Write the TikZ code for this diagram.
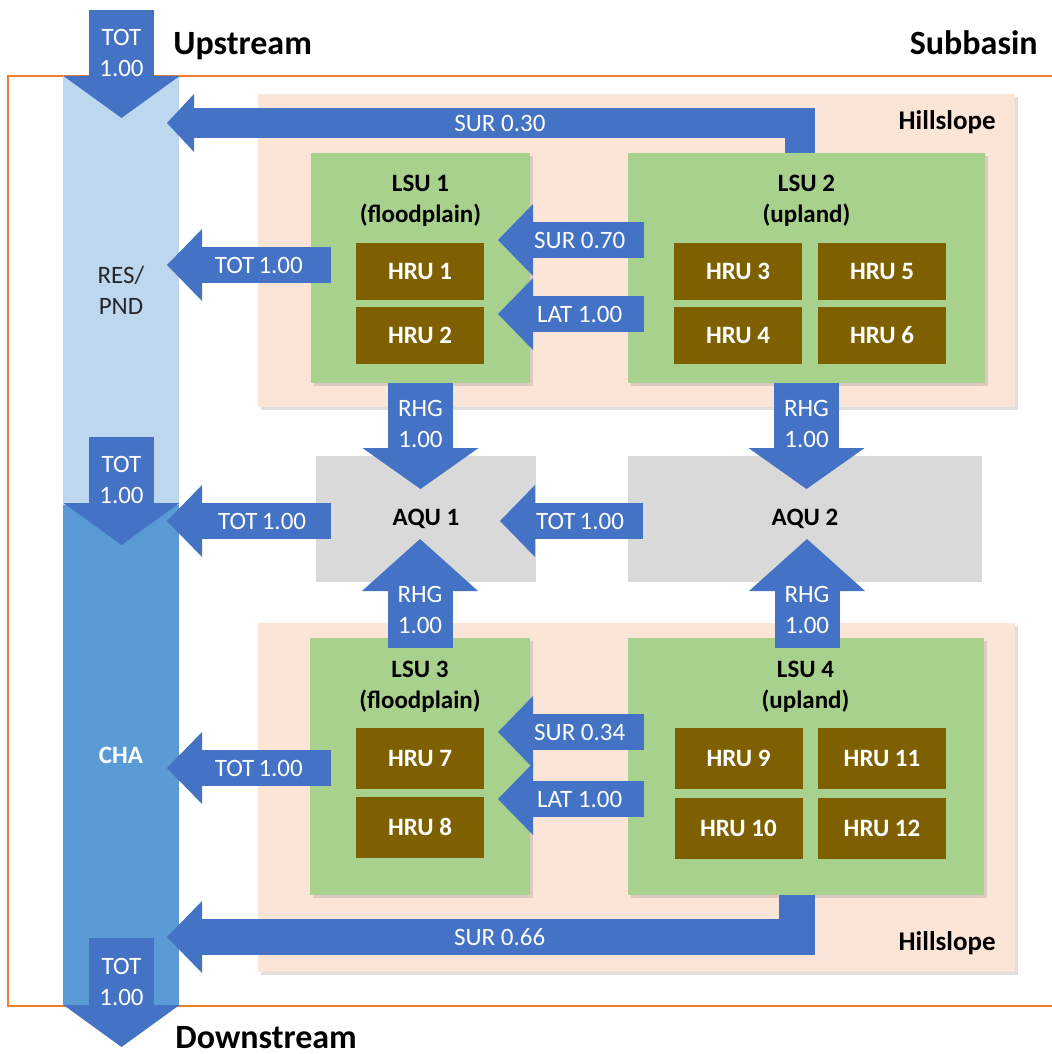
\documentclass[tikz,border=0pt]{standalone}
\usepackage{fontspec}
\setmainfont{Carlito}
\usetikzlibrary{arrows.meta,calc,shadows}
\definecolor{flowblue}{HTML}{4472C4}
\definecolor{resblue}{HTML}{BDD7EE}
\definecolor{chablue}{HTML}{5B9BD5}
\definecolor{hillpeach}{HTML}{FBE5D6}
\definecolor{lsugreen}{HTML}{A9D18E}
\definecolor{hrubrown}{HTML}{7F6000}
\definecolor{aqugray}{HTML}{D9D9D9}
\definecolor{subline}{HTML}{ED7D31}
\newcommand{\labsize}{\fontsize{12.5}{15.5}\selectfont}
\newcommand{\bigsize}{\fontsize{17}{20}\selectfont}
\tikzset{
  area/.style={inner sep=0pt, outer sep=0pt},
  boxshadow/.style={drop shadow={shadow xshift=1.5pt, shadow yshift=-1.5pt, opacity=.25}},
  hill/.style={area, fill=hillpeach, minimum width=378.5pt, boxshadow},
  lsu/.style={area, fill=lsugreen, boxshadow},
  hru/.style={area, fill=hrubrown, text=white, font=\labsize\bfseries, minimum width=64pt},
  aqu/.style={area, fill=aqugray, font=\labsize\bfseries, minimum height=63pt},
  lsulab/.style={align=center, inner sep=0pt, font=\labsize\bfseries},
  title/.style={inner sep=0pt, font=\bigsize\bfseries},
  hilllab/.style={inner sep=0pt, font=\fontsize{13.5}{16}\selectfont\bfseries, anchor=base east},
  flab/.style={text=white, align=center, inner sep=0pt, font=\labsize},
  flow/.style={draw=flowblue, line width=18pt, line join=miter, -{Triangle[width=36pt,length=17.5pt,line width'=0pt]}},
  thinflow/.style={draw=flowblue, line width=15pt, line join=miter, -{Triangle[width=29pt,length=13.5pt,line width'=0pt]}},
  bigflow/.style={draw=flowblue, line width=32.5pt, -{Triangle[width=58pt,length=#1,line width'=0pt]}},
  bigflow/.default=21pt
}
\begin{document}
\begin{tikzpicture}[x=0.5pt,y=-0.5pt]
\clip (0,0) rectangle (1052,1054);
\fill[white] (0,0) rectangle (1052,1054);
\draw[subline,line width=1pt] (8,76) rectangle (1070,1006);

\node[area,fill=resblue,minimum width=58pt,minimum height=214.5pt,align=center,text=black!85,font=\labsize] (res) at (121,290.5) {RES/\\PND};
\node[area,fill=chablue,minimum width=58pt,minimum height=250.5pt,text=white,font=\labsize\bfseries] (cha) at (121,755.5) {CHA};

\node[hill,minimum height=156.5pt] (hilltop) at (636.5,250.5) {};
\node[hill,minimum height=174.5pt] (hillbot) at (636.5,797.5) {};

\node[lsu,minimum width=109.5pt,minimum height=115pt] (lsu1) at (420.5,268) {};
\node[lsu,minimum width=178.5pt,minimum height=115pt] (lsu2) at (806.5,268) {};
\node[lsu,minimum width=110pt,minimum height=128.5pt] (lsu3) at (420,766.5) {};
\node[lsu,minimum width=178pt,minimum height=128.5pt] (lsu4) at (805.5,766.5) {};

\node[lsulab] (lsu1t) at ($(lsu1.north)+(0,48)$) {LSU 1\\(floodplain)};
\node[lsulab] (lsu2t) at ($(lsu2.north)+(0,48)$) {LSU 2\\(upland)};
\node[lsulab] (lsu3t) at ($(lsu3.north)+(0,49)$) {LSU 3\\(floodplain)};
\node[lsulab] (lsu4t) at ($(lsu4.north)+(0,49)$) {LSU 4\\(upland)};

\foreach \n/\x/\y in {1/420/271.5,2/420/335.5,3/738/271.5,4/738/335.5,5/882/271.5,6/882/335.5}
  \node[hru,minimum height=28.5pt] (hru\n) at (\x,\y) {HRU \n};
\foreach \n/\x/\y in {7/420/758.5,8/420/827,9/738.5/758.5,10/738.5/828.5,11/882/758.5,12/882/828.5}
  \node[hru,minimum height=30.5pt] (hru\n) at (\x,\y) {HRU \n};

\node[aqu,minimum width=110pt] (aqu1) at (426,519) {AQU 1};
\node[aqu,minimum width=177pt] (aqu2) at (805,519) {AQU 2};

\coordinate (upin) at (121.5,10);
\coordinate (downout) at (121.5,1047);

\draw[bigflow] (upin) -- ($(res.north)+(0.5,42)$) node[flab,pos=.40] (totup) {TOT\\1.00};
\draw[bigflow] ($(res.south)+(0.5,-68)$) -- ($(cha.north)+(0.5,40)$) node[flab,pos=.40] (totmid) {TOT\\1.00};
\draw[bigflow] ($(cha.south)+(0.5,-68)$) -- (downout) node[flab,pos=.40] (totdown) {TOT\\1.00};

\draw[thinflow] ($(lsu2.north)+(-6.5,0)$) |- ($(res.north east)+(-12,47)$) node[flab,pos=.737] (sur30) {SUR 0.30};
\draw[flow] ($(lsu1.west)+(20,-3)$) -- ($(lsu1.west -| res.east)+(-12,-3)$) node[flab,pos=.44] (tot1) {TOT\,1.00};
\draw[flow] ($(lsu2.west)+(16,-28)$) -- ($(lsu1.east)+(-32,-28)$) node[flab,pos=.44] (sur70) {SUR 0.70};
\draw[flow] ($(lsu2.west)+(16,46)$) -- ($(lsu1.east)+(-32,46)$) node[flab,pos=.44] (lat2) {LAT 1.00};

\draw[bigflow=20.5pt] (lsu1.south) -- ($(aqu1.north -| lsu1.south)+(0,33)$) node[flab,pos=.39] (rhg1) {RHG\\1.00};
\draw[bigflow=20.5pt] (lsu2.south) -- ($(aqu2.north -| lsu2.south)+(0,33)$) node[flab,pos=.39] (rhg2) {RHG\\1.00};
\draw[flow] ($(aqu1.west)+(15,2)$) -- ($(aqu1.west -| cha.east)+(-12,2)$) node[flab,pos=.42] (totaqu1) {TOT\,1.00};
\draw[flow] ($(aqu2.west)+(15,2)$) -- ($(aqu1.east)+(-36,2)$) node[flab,pos=.44] (totaqu2) {TOT\,1.00};
\draw[bigflow=26pt] ($(lsu3.north)+(0,10)$) -- ($(aqu1.south -| lsu3.north)+(0,-43)$) node[flab,pos=.35] (rhg3) {RHG\\1.00};
\draw[bigflow=26pt] ($(lsu4.north)+(1.5,10)$) -- ($(aqu2.south -| lsu4.north)+(1.5,-43)$) node[flab,pos=.35] (rhg4) {RHG\\1.00};

\draw[flow] ($(lsu3.west)+(21,1.5)$) -- ($(lsu3.west -| cha.east)+(-12,1.5)$) node[flab,pos=.44] (tot3) {TOT\,1.00};
\draw[flow] ($(lsu4.west)+(16.5,-34.5)$) -- ($(lsu3.east)+(-32,-34.5)$) node[flab,pos=.44] (sur34) {SUR 0.34};
\draw[flow] ($(lsu4.west)+(16.5,32.5)$) -- ($(lsu3.east)+(-32,32.5)$) node[flab,pos=.44] (lat4) {LAT 1.00};
\draw[flow] ($(lsu4.south)+(-8.5,0)$) |- ($(cha.east)+(-12,181.5)$) node[flab,pos=.736] (sur66) {SUR 0.66};

\node[title,anchor=base west] (upt) at (173,55) {Upstream};
\node[title,anchor=base east] (subt) at (1038,55) {Subbasin};
\node[title,anchor=base west] (downt) at (175,1048) {Downstream};
\node[hilllab] (hilltopt) at (996,130) {Hillslope};
\node[hilllab] (hillbott) at (996,950) {Hillslope};
\end{tikzpicture}
\end{document}
